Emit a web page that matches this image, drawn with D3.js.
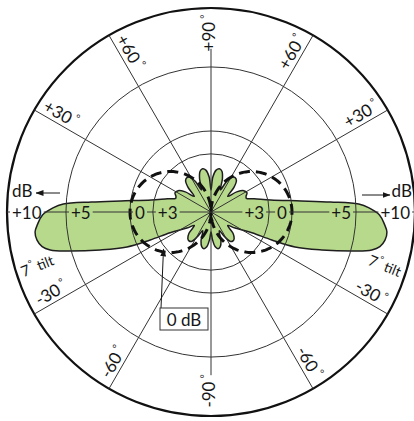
<!DOCTYPE html>
<html><head><meta charset="utf-8">
<script src="https://cdn.jsdelivr.net/npm/d3@7"></script>
<style>html,body{margin:0;padding:0;background:#fff;} svg{display:block;}</style>
</head><body><svg id="chart" width="414" height="421"></svg>
<script>
// ---------- data ----------
const ringLabels = ["+10", "+5", "0", "+3"];
const ringLevels = [1.0, 0.711, 0.397, 0.285];          // relative radius of each ring
const spokeAngles = [30, 60, 90, 120, 150, 210, 240, 270, 300, 330];
const angleLabelAngles = [90, 60, 30, -30, -60, -90, 120, 150, 210, 240];
const angleLabels = ["+90", "+60", "+30", "-30", "-60", "-90", "+60", "+30", "-30", "-60"];
// right half of the radiation pattern (deg, math convention, up = +), mirrored for the left half
const patternAngles = [90, 87, 83, 79, 75, 71, 67, 63, 59, 55, 51, 47, 43, 38, 33, 28, 24, 21, 17, 11.3, 7, 4.8, 3.1, 1.5,
  -1, -4, -6.5, -9.2, -11.6, -13.3, -15.2, -18.9, -22.6, -24.7, -27, -33.7, -39, -44, -49, -53, -57, -61, -66,
  -71, -75, -79, -83, -87, -90];
const patternGain = [0.108, 0.172, 0.207, 0.216, 0.207, 0.172, 0.118, 0.168, 0.198, 0.206, 0.198, 0.165, 0.112,
  0.160, 0.192, 0.200, 0.188, 0.186, 0.222, 0.299, 0.446, 0.588, 0.725, 0.775,
  0.826, 0.852, 0.868, 0.864, 0.845, 0.810, 0.730, 0.574, 0.446, 0.328, 0.225, 0.142, 0.105, 0.150, 0.173, 0.178,
  0.171, 0.140, 0.100, 0.150, 0.176, 0.183, 0.172, 0.135, 0.098];
const dipoleLevel = 0.397;   // 0 dB reference (dashed)
const tiltText = "7";
const tiltWord = " tilt";
const unitText = "dB";
const refText = "0 dB";

// ---------- layout ----------
const W = 414, H = 421, cx = 211, cy = 212, R = 204;
const svg = d3.select("#chart");
const FONT = "Lato, 'Open Sans', 'DejaVu Sans', sans-serif";
const ink = "#161616";

const rScale = d3.scaleLinear().domain([0, 1]).range([0, R]);
const aScale = d3.scaleLinear().domain([0, 90]).range([Math.PI / 2, 0]); // math deg -> lineRadial angle
const pt = (deg, r) => [cx + r * Math.cos(deg * Math.PI / 180), cy - r * Math.sin(deg * Math.PI / 180)];

const defs = svg.append("defs");
defs.append("marker").attr("id", "ah").attr("viewBox", "0 0 8 6").attr("refX", 7.5).attr("refY", 3)
  .attr("markerWidth", 8).attr("markerHeight", 6).attr("markerUnits", "userSpaceOnUse").attr("orient", "auto")
  .append("path").attr("d", "M0,0 L8,3 L0,6 Z").attr("fill", ink);

// ---------- pattern ----------
const right = patternAngles.map((a, i) => ({ a, g: patternGain[i] }));
const left = right.slice(1, -1).reverse().map(d => ({ a: -180 - d.a, g: d.g }));
const pattern = right.concat(left);

const g = svg.append("g").attr("transform", `translate(${cx},${cy})`);
const radial = d3.lineRadial().angle(d => aScale(d.a)).radius(d => rScale(d.g))
  .curve(d3.curveCatmullRomClosed.alpha(0.5));
g.append("path").attr("d", radial(pattern)).attr("fill", "#b7d98c")
  .attr("stroke", "#1e1e1e").attr("stroke-width", 1.5).attr("stroke-linejoin", "round");

// ---------- grid ----------
g.selectAll("circle.ring").data(ringLevels).join("circle").attr("class", "ring")
  .attr("r", d => rScale(d)).attr("fill", "none")
  .attr("stroke", d => d === 1 ? "#111" : "#333").attr("stroke-width", d => d === 1 ? 2.2 : 1);

g.selectAll("line.spoke").data(spokeAngles).join("line").attr("class", "spoke")
  .attr("x1", 0).attr("y1", 0)
  .attr("x2", d => rScale(d % 180 === 90 ? 0.80 : 1) * Math.cos(d * Math.PI / 180))
  .attr("y2", d => -rScale(d % 180 === 90 ? 0.80 : 1) * Math.sin(d * Math.PI / 180))
  .attr("stroke", "#333").attr("stroke-width", 1);

// ---------- dashed 0 dB dipole ----------
const dip = d3.range(90, -270.5, -1).map(a => ({ a, g: dipoleLevel * Math.abs(Math.cos(a * Math.PI / 180)) }));
g.append("path").attr("d", d3.lineRadial().angle(d => aScale(d.a)).radius(d => rScale(d.g))(dip))
  .attr("fill", "none").attr("stroke", "#111").attr("stroke-width", 3).attr("stroke-dasharray", "11,6");

// ---------- horizontal axis labels ----------
const hl = svg.append("g").attr("font-family", FONT).attr("font-size", 17).attr("fill", ink);
const hLabels = [];
[1, -1].forEach(s => {
  ringLabels.forEach((t, i) => {
    const el = hl.append("text")
      .attr("x", cx + s * (rScale(ringLevels[i]) - 5)).attr("y", cy)
      .attr("text-anchor", s > 0 ? "end" : "start").attr("dominant-baseline", "central").text(t);
    hLabels.push(el);
  });
});
const gaps = hLabels.map(el => { const b = el.node().getBBox(); return [b.x - 2, b.x + b.width + 2]; })
  .sort((a, b) => a[0] - b[0]);
let segs = [], cur = cx - R;
gaps.forEach(([a, b]) => { if (a > cur) segs.push([cur, a]); cur = Math.max(cur, b); });
if (cur < cx + R) segs.push([cur, cx + R]);
svg.insert("g", () => hl.node()).selectAll("line").data(segs).join("line")
  .attr("x1", d => d[0]).attr("x2", d => d[1]).attr("y1", cy).attr("y2", cy)
  .attr("stroke", "#333").attr("stroke-width", 1);

// ---------- angle labels ----------
const al = svg.append("g").attr("font-family", FONT).attr("font-size", 17).attr("fill", ink);
angleLabelAngles.forEach((a, i) => {
  const [x, y] = pt(a, 179);
  const isRight = Math.cos(a * Math.PI / 180) > 1e-6 || a === 90;
  const rot = isRight ? -a : 180 - a;
  const vert = Math.abs(a) === 90;
  const t = al.append("text").attr("transform", `translate(${x},${y}) rotate(${rot})`)
    .attr("text-anchor", "middle").attr("y", vert ? 4 : -4);
  t.append("tspan").text(angleLabels[i]);
  t.append("tspan").attr("font-size", 10).attr("dx", 3).attr("dy", -7).text("°");
});

// ---------- dB arrows ----------
const ul = svg.append("g").attr("font-family", FONT).attr("font-size", 17).attr("fill", ink);
ul.append("text").attr("x", cx - R + 5).attr("y", cy - 15).text(unitText);
ul.append("line").attr("x1", cx - R + 53).attr("x2", cx - R + 29).attr("y1", cy - 19).attr("y2", cy - 19)
  .attr("stroke", ink).attr("stroke-width", 1).attr("marker-end", "url(#ah)");
ul.append("text").attr("x", cx + R - 3).attr("y", cy - 15).attr("text-anchor", "end").text(unitText);
ul.append("line").attr("x1", cx + R - 53).attr("x2", cx + R - 25).attr("y1", cy - 17).attr("y2", cy - 17)
  .attr("stroke", ink).attr("stroke-width", 1).attr("marker-end", "url(#ah)");

// ---------- tilt labels ----------
[[-17, 22], [197, -22]].forEach(([a, rot]) => {
  const [x, y] = pt(a, 182);
  const t = ul.append("text").attr("transform", `translate(${x},${y}) rotate(${rot})`)
    .attr("text-anchor", "middle").attr("dominant-baseline", "central").attr("font-size", 15);
  t.append("tspan").text(tiltText);
  t.append("tspan").attr("font-size", 9).attr("dx", 1).attr("dy", -5).text("°");
  t.append("tspan").attr("font-size", 14).attr("dy", 5).text(tiltWord);
});

// ---------- 0 dB reference callout ----------
ul.append("line").attr("x1", cx - 50).attr("y1", cy + 96).attr("x2", cx - 47.5).attr("y2", cy + 37)
  .attr("stroke", ink).attr("stroke-width", 1).attr("marker-end", "url(#ah)");
ul.append("rect").attr("x", cx - 51).attr("y", cy + 96).attr("width", 48).attr("height", 22)
  .attr("fill", "#fff").attr("stroke", "#333").attr("stroke-width", 1);
ul.append("text").attr("x", cx - 27).attr("y", cy + 107).attr("text-anchor", "middle")
  .attr("dominant-baseline", "central").text(refText);
</script></body></html>
